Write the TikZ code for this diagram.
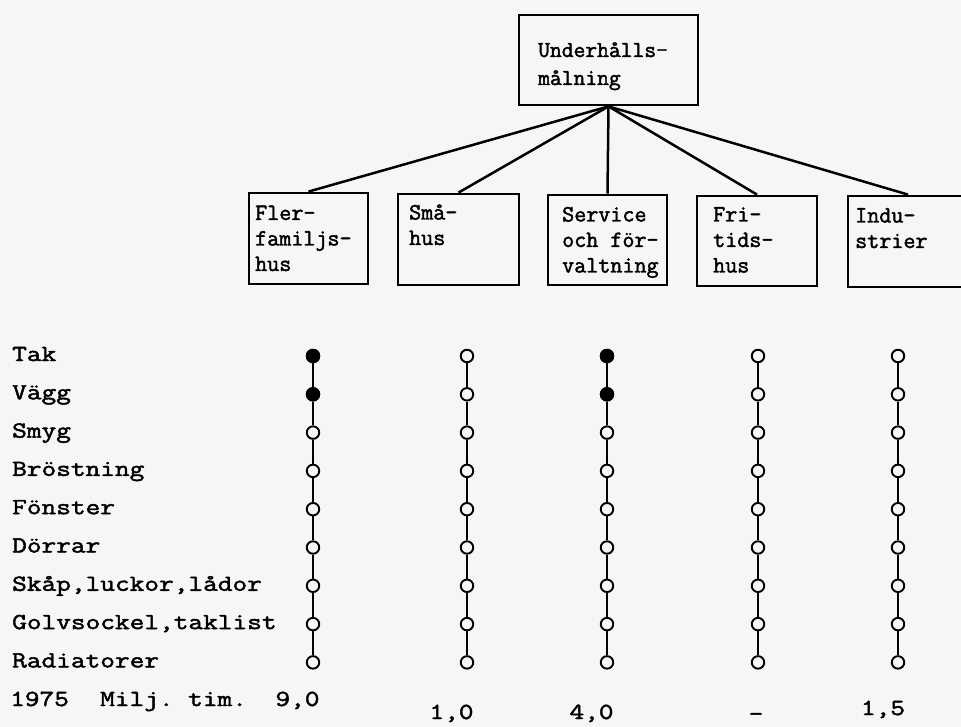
\documentclass[tikz,border=0pt]{standalone}
\usepackage{fontspec}
\newfontfamily\labfont[FakeStretch=1.24,FakeBold=2]{Latin Modern Mono}
\newfontfamily\boxfont[FakeBold=1.8]{Latin Modern Mono}
\definecolor{paper}{RGB}{246,246,246}
\begin{document}
\begin{tikzpicture}[x=1pt,y=-1pt,
  catbox/.style={draw, line width=2.8pt, inner sep=0pt},
  boxtext/.style={font=\boxfont\fontsize{23.4}{25.5}\selectfont, align=left, inner sep=0pt, anchor=base west},
  rowlabel/.style={font=\labfont\fontsize{23}{30}\selectfont, inner sep=0pt, anchor=base west},
  valtext/.style={font=\labfont\fontsize{23}{30}\selectfont, inner sep=0pt, anchor=base},
  opendot/.style={circle, draw, line width=1.9pt, minimum size=12.5pt, inner sep=0pt, fill=paper},
  fulldot/.style={opendot, fill=black},
  link/.style={line width=2.5pt},
  colline/.style={line width=2pt}]
\fill[paper] (0,0) rectangle (961,727);
\useasboundingbox (0,0) rectangle (961,727);
\clip (0,0) rectangle (961,727);

% boxes
\node[catbox, minimum width=179pt, minimum height=90pt] (top) at (608.5,60) {};
\node[catbox, minimum width=119pt, minimum height=91pt] (fler) at (308.5,238.5) {};
\node[catbox, minimum width=121pt, minimum height=91pt] (sma) at (458.5,239.5) {};
\node[catbox, minimum width=119pt, minimum height=90pt] (serv) at (607.5,240) {};
\node[catbox, minimum width=120pt, minimum height=90pt] (fri) at (757,241) {};
\node[catbox, minimum width=120pt, minimum height=91pt] (indu) at (908,241.5) {};

% box texts (anchor = baseline of last line)
\node[boxtext, font=\boxfont\fontsize{22.9}{28}\selectfont] (topt) at (538,85) {Underhålls-\\målning};
\node[boxtext] (flert) at (255,271) {Fler-\\familjs-\\hus};
\node[boxtext] (smat) at (409,245) {Små-\\hus};
\node[boxtext] (servt) at (562,272.5) {Service\\och för-\\valtning};
\node[boxtext] (frit) at (713,272.5) {Fri-\\tids-\\hus};
\node[boxtext] (indut) at (855,248) {Indu-\\strier};

% links
\foreach \b in {fler,sma,serv,fri,indu}
  \draw[link] (top.south) -- (\b.north);

% row labels
\foreach \t [count=\i from 0] in {Tak,Vägg,Smyg,Bröstning,Fönster,Dörrar,{Skåp,luckor,lådor},{Golvsockel,taklist},Radiatorer}
  \node[rowlabel] (lab\i) at (12,{356+38.3*\i+5}) {\t};

% columns of dots
\foreach \x [count=\c] in {313,467,607,758,898} {
  \foreach \i in {0,...,8} {
    \node[opendot] (d\c-\i) at (\x,{356+38.3*\i}) {};
  }
  \foreach \i [evaluate=\i as \j using int(\i+1)] in {0,...,7}
    \draw[colline] (d\c-\i) -- (d\c-\j);
}
\node[fulldot] at (d1-0) {};
\node[fulldot] at (d1-1) {};
\node[fulldot] at (d3-0) {};
\node[fulldot] at (d3-1) {};

% bottom row
\node[rowlabel] (year) at (10,706) {1975};
\node[rowlabel] (milj) at (100,706) {Milj.};
\node[rowlabel] (tim) at (188,706) {tim.};
\node[valtext] (v1) at (297.5,706) {9,0};
\node[valtext] (v2) at (451.5,719) {1,0};
\node[valtext] (v3) at (591.5,719) {4,0};
\node[valtext] (v4) at (756,721) {-};
\node[valtext] (v5) at (883,715) {1,5};
\end{tikzpicture}
\end{document}
